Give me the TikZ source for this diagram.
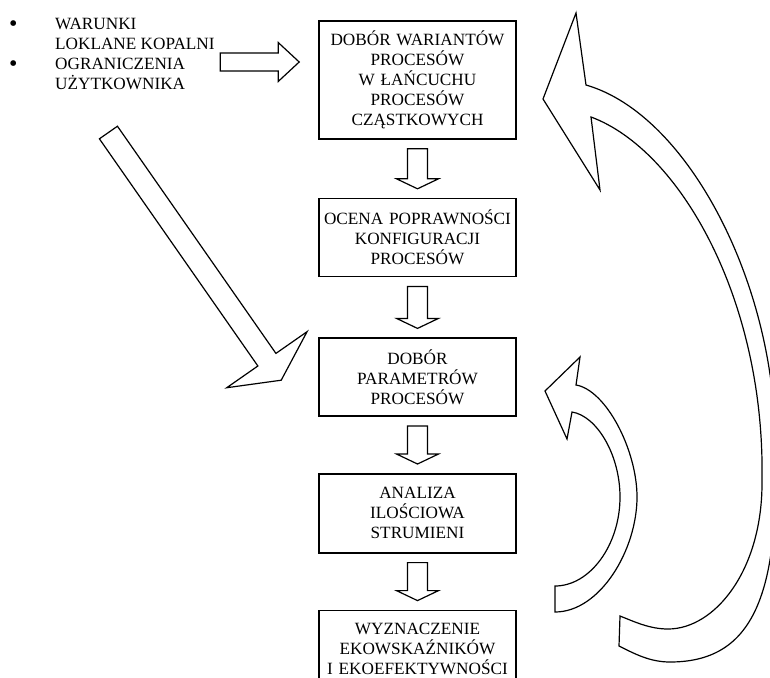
\documentclass[tikz,border=0pt]{standalone}
\usepackage{fontspec}
\setmainfont{Liberation Serif}
\usepackage{tikz}
\usetikzlibrary{positioning,calc}

\newcommand{\bigbul}{\makebox[45pt][l]{\hspace*{-1pt}\raisebox{-2.5pt}{\fontsize{24}{20}\selectfont\textbullet}}}

\begin{document}
\begin{tikzpicture}[
  x=1pt, y=-1pt,
  font=\fontsize{17.2}{20}\selectfont,
  proc/.style={draw, line width=1.6pt, rectangle, minimum width=197pt, minimum height=78pt, text width=189pt, inner xsep=4pt, align=center},
  fat/.style={draw, line width=1.2pt, fill=white, line join=miter},
]
  \useasboundingbox (0,0) rectangle (770,677);
  \clip (0,0) rectangle (770,677);

  \node[proc, minimum height=118pt] (dobor) at (417.5,80) {DOBÓR WARIANTÓW\\ PROCESÓW\\ W ŁAŃCUCHU\\ PROCESÓW\\ CZĄSTKOWYCH};
  \node[proc, below=58pt of dobor] (ocena) {OCENA POPRAWNOŚCI\\ KONFIGURACJI\\ PROCESÓW};
  \node[proc, below=60pt of ocena] (param) {DOBÓR\\ PARAMETRÓW\\ PROCESÓW};
  \node[proc, below=56pt of param, minimum height=79pt] (analiza) {ANALIZA\\ ILOŚCIOWA\\ STRUMIENI};
  \node[proc, below=56pt of analiza] (wyzn) {WYZNACZENIE\\ EKOWSKAŹNIKÓW\\ I EKOEFEKTYWNOŚCI};

  \node[anchor=north west, inner sep=0pt, align=left] (warunki) at (10,17.5)
    {\bigbul WARUNKI\\
     \hspace*{45pt}LOKLANE KOPALNI\\
     \bigbul OGRANICZENIA\\
     \hspace*{45pt}UŻYTKOWNIKA};

  % block arrows down the chain
  \foreach \a/\b in {dobor/ocena, ocena/param, param/analiza, analiza/wyzn}
    \draw[fat] ($(\a.south)+(-10,9)$) -- ($(\b.north)+(-10,-19)$) -- ++(-11,0)
      -- ($(\b.north)+(0,-9)$) -- ++(21,-10) -- ++(-11,0) -- ($(\a.south)+(10,9)$) -- cycle;

  % input arrows from the left
  \coordinate (intip) at ($(dobor.west)+(-19,-18)$);
  \draw[fat] (intip) -- ++(-21,-19.5) -- ++(0,10.5) -- ++(-58,0) -- ++(0,18)
    -- ++(58,0) -- ++(0,10.5) -- cycle;
  \begin{scope}[shift={($(param.west)+(-37,3)$)}, rotate=-55.1]
    \draw[fat] (0,0) -- (-25,49) -- (-25,11) -- (-302,11) -- (-302,-11)
      -- (-25,-11) -- (-25,-49) -- cycle;
  \end{scope}

  % feedback arrows on the right
  \draw[fat] (576,385) .. controls (606,390) and (637,450) .. (637,497)
    .. controls (637,550) and (600,612) .. (555,612) -- (555,586)
    .. controls (590,586) and (620,545) .. (620,497)
    .. controls (620,455) and (597,416) .. (572,412)
    -- (567,439) -- (545,391) -- (580,357) -- cycle;
  \draw[fat] (586,85) .. controls (690,115) and (778,290) .. (775,450)
    .. controls (780,600) and (750,662) .. (670,662)
    .. controls (650,662) and (635,654) .. (619,646) -- (620,616)
    .. controls (635,622) and (650,629) .. (668,629)
    .. controls (715,629) and (763,570) .. (762,480)
    .. controls (765,300) and (680,150) .. (591,117)
    -- (600,190) -- (543,99) -- (576,13) -- cycle;
\end{tikzpicture}
\end{document}
